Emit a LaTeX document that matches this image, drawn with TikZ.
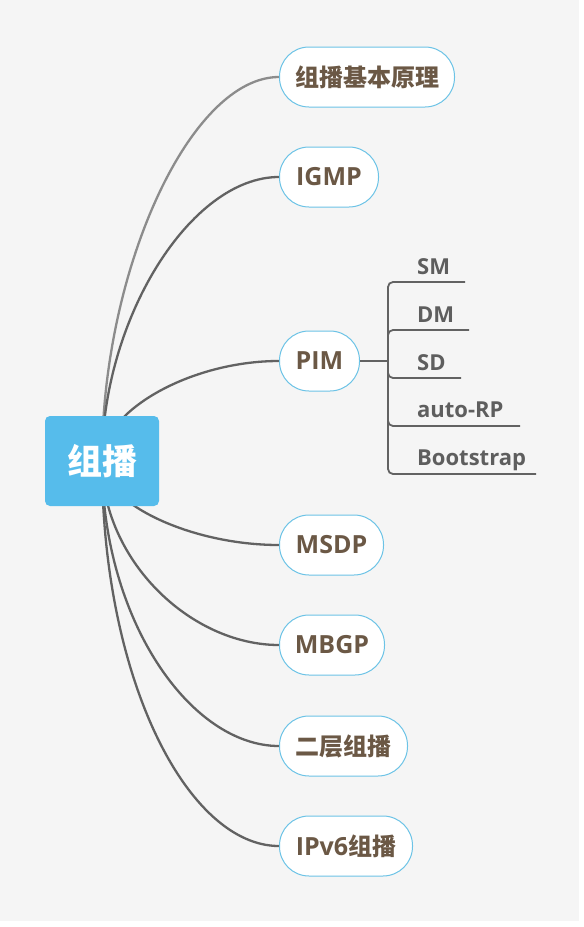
\documentclass[tikz,border=0pt]{standalone}
\usepackage{fontspec}
\setmainfont{Open Sans}
\newfontfamily\cjk{Noto Sans CJK SC}
\newcommand\zh[2][24]{{\cjk\fontsize{#1}{#1}\selectfont #2}}
\definecolor{bg}{HTML}{F5F5F5}
\definecolor{rootblue}{HTML}{56BCEB}
\definecolor{topicborder}{HTML}{6CC3E6}
\definecolor{topictext}{HTML}{6B5845}
\definecolor{linedark}{HTML}{626262}
\definecolor{linelight}{HTML}{8C8C8C}
\definecolor{subtext}{HTML}{5E5E5E}
\pgfdeclarelayer{background}
\pgfsetlayers{background,main}
\tikzset{
  topic/.style={draw=topicborder, line width=1pt, fill=white, rounded corners=29.5pt,
    minimum height=60pt, inner xsep=0pt, anchor=west, text=topictext,
    font=\bfseries\fontsize{25}{25}\selectfont},
  rootnode/.style={fill=rootblue, rounded corners=5pt, minimum width=114pt, minimum height=90pt,
    text=white, inner sep=0pt},
  branch/.style={draw=linedark, line width=2.3pt},
  subline/.style={draw=linedark, line width=1.8pt},
  leaf/.style={anchor=base west, inner sep=0pt, text=subtext, font=\bfseries\fontsize{22}{22}\selectfont}
}
\begin{document}
\begin{tikzpicture}[x=1pt,y=-1pt]
\useasboundingbox (0,0) rectangle (584,927);

\node[rootnode] (root) at (102,461) {\zh[35]{\bfseries 组播}};

\node[topic, minimum width=175pt] (n1) at (279,77) {\zh{\bfseries 组播基本原理}};
\node[topic, minimum width=99pt] (n2) at (279,177) {IGMP};
\node[topic, minimum width=80pt] (pim) at (279,361) {PIM};
\node[topic, minimum width=104pt] (n4) at (279,545) {MSDP};
\node[topic, minimum width=105pt] (n5) at (279,645) {MBGP};
\node[topic, minimum width=128pt] (n6) at (279,746) {\zh{\bfseries 二层组播}};
\node[topic, minimum width=133pt] (n7) at (279,846) {IPv6\zh{\bfseries 组播}};

\begin{pgfonlayer}{background}
\fill[white] (0,0) rectangle (584,927);
\fill[bg] (0,0) rectangle (579,921);
\draw[branch, draw=linelight] (root.center) .. controls (102,269) and (190.5,77) .. (n1.west);
\draw[branch] (root.center) .. controls (102,319) and (190.5,177) .. (n2.west);
\draw[branch] (root.center) .. controls (102,411) and (190.5,361) .. (pim.west);
\draw[branch] (root.center) .. controls (102,503) and (190.5,545) .. (n4.west);
\draw[branch] (root.center) .. controls (102,560) and (190.5,645) .. (n5.west);
\draw[branch] (root.center) .. controls (102,620) and (190.5,746) .. (n6.west);
\draw[branch] (root.center) .. controls (102,680) and (188,846) .. (n7.west);
\end{pgfonlayer}

\coordinate (j) at (388,361);
\coordinate (smE) at (465,282);
\coordinate (dmE) at (469,330);
\coordinate (sdE) at (461,378);
\coordinate (arE) at (520,426);
\coordinate (bsE) at (536,474);
\draw[subline] (pim.east) -- (j);
\draw[subline, rounded corners=5pt] (j) |- (smE);
\draw[subline, rounded corners=5pt] (j) |- (dmE);
\draw[subline, rounded corners=5pt] (j) |- (sdE);
\draw[subline, rounded corners=5pt] (j) |- (arE);
\draw[subline, rounded corners=5pt] (j) |- (bsE);

\node[leaf] (sm) at (417,274) {SM};
\node[leaf] (dm) at (417,322) {DM};
\node[leaf] (sd) at (417,370) {SD};
\node[leaf] (ar) at (417,417) {auto-RP};
\node[leaf] (bs) at (417,465) {Bootstrap};
\end{tikzpicture}
\end{document}
